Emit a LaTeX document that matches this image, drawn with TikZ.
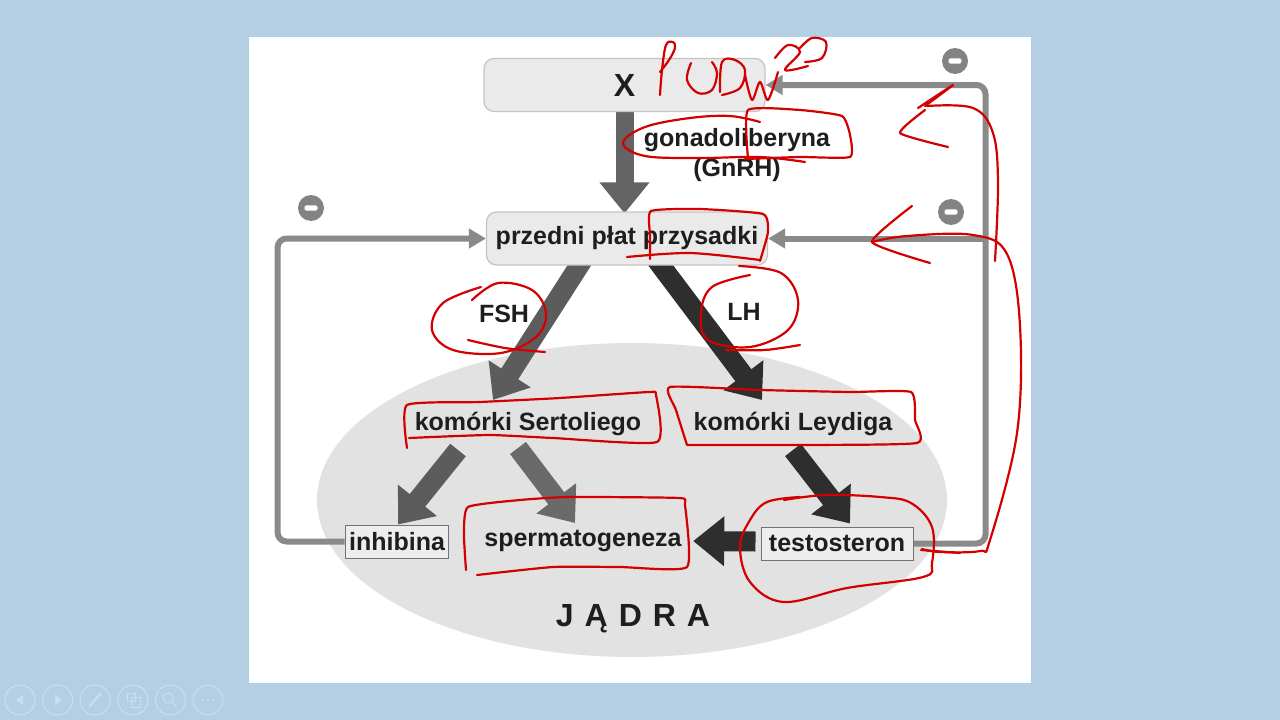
\documentclass[tikz,border=0pt]{standalone}
\usepackage{fontspec}
\setmainfont{Liberation Sans}
\usetikzlibrary{arrows.meta,positioning,calc,backgrounds}

\definecolor{slidebg}{RGB}{180,207,227}
\definecolor{boxfill}{RGB}{234,234,234}
\definecolor{boxline}{RGB}{196,196,196}
\definecolor{ellfill}{RGB}{226,226,226}
\definecolor{fbgray}{RGB}{138,138,138}
\definecolor{pen}{RGB}{212,0,0}
\definecolor{ink}{RGB}{30,30,30}
\definecolor{tbline}{RGB}{204,222,236}
\definecolor{midgray}{RGB}{92,92,92}
\definecolor{lightgray}{RGB}{106,106,106}
\definecolor{darkgray}{RGB}{46,46,46}

\begin{document}
\begin{tikzpicture}[x=1pt,y=-1pt,
    txt/.style={text=ink, font=\bfseries\fontsize{25}{29}\selectfont},
    organ/.style={txt, draw=boxline, fill=boxfill, line width=1.2pt, rounded corners=10pt,
      minimum width=281pt, minimum height=53pt},
    hormbox/.style={txt, draw=gray!90!black, fill=white!93!black, line width=1pt,
      minimum height=33pt, inner xsep=4pt},
    fat/.style={line width=20pt, -{Triangle[length=31pt,width=48pt]}},
    fb/.style={fbgray, line width=6pt, rounded corners=9pt, -{Triangle[length=17pt,width=19pt]}},
    minus/.style={circle, fill=fbgray!95!black, minimum size=26pt, inner sep=0pt,
      path picture={\fill[white, rounded corners=2pt]
        ([xshift=-6.5pt,yshift=-2.6pt]path picture bounding box.center) rectangle ++(13pt,5.2pt);}},
    redpen/.style={pen, line width=2.2pt, line cap=round, line join=round},
    tbicon/.style={tbline, line width=1pt}
  ]
  \useasboundingbox (0,0) rectangle (1280,720);

  % Knoten
  \node[organ, font=\bfseries\fontsize{32}{36}\selectfont] (xbox) at (624.5,85) {X};
  \node[organ] (gland) at (627,238.5) {przedni płat przysadki};
  \node[txt, font=\bfseries\fontsize{25}{30}\selectfont, align=center] (gnrh) at (737,155) {gonadoliberyna\\(GnRH)};
  \node[txt] (fsh) at (504,314) {FSH};
  \node[txt] (lh) at (744,312) {LH};
  \node[txt] (sertoli) at (528,424) {komórki Sertoliego};
  \node[txt] (leydig) at (793,424) {komórki Leydiga};
  \node[hormbox] (inhib) at (397,541.5) {inhibina};
  \node[txt] (sperm) at (583,541) {spermatogeneza};
  \node[hormbox, minimum width=152pt] (testo) at (837,543.5) {testosteron};
  \node[txt, font=\bfseries\fontsize{32}{36}\selectfont] (jadra) at (633,619)
    {J\hspace{11pt}Ą\hspace{11pt}D\hspace{11pt}R\hspace{11pt}A};

  % Hemmung
  \node[minus] (m1) at (311,208) {};
  \node[minus] (m2) at (955,61) {};
  \node[minus] (m3) at (951,212) {};

  \begin{scope}[on background layer]
    % Folie
    \fill[slidebg] (0,0) rectangle (1280,720);
    \fill[white] (249,37) rectangle (1031,683);
    \fill[ellfill] (632,500) ellipse [x radius=315pt, y radius=157pt];

    % Hormonpfeile
    \draw[fat, line width=18pt, color=midgray!95!white] (xbox.south) -- ([yshift=-2pt]xbox.south |- gland.north);
    \draw[fat, color=midgray] ($(gland)+(-42,18)$) -- ($(sertoli)+(-35,-24)$);
    \draw[fat, color=darkgray] ($(gland)+(27,18)$) -- ($(leydig)+(-31,-24)$);
    \draw[fat, color=midgray] ($(sertoli)+(-70,26)$) -- ($(inhib)+(1,-17)$);
    \draw[fat, color=lightgray] ($(sertoli)+(-10,24)$) -- ($(sperm)+(-8,-18)$);
    \draw[fat, color=darkgray] ($(leydig)+(0,26)$) -- ($(testo)+(13,-20)$);
    \draw[fat, color=darkgray] ($(testo.west)+(-5,-2)$) -- ($(sperm.east)+(8,0)$);

    % Rueckkopplung
    \coordinate (rbend) at ($(testo.east)+(72,0)$);
    \draw[fb] (testo.east) -- (rbend) |- (xbox.east);
    \draw[fb] ($(rbend |- gland.east)+(2,0)$) -- (gland.east);
    \draw[fb] (inhib.west) -- ++(-67,0) |- (gland.west);
  \end{scope}

  % Notizen (rot)
  \draw[redpen] plot[smooth, tension=0.6] coordinates {(660,95) (662,70) (666,45) (673,42) (675,48) (669,60) (660,72)};
  \draw[redpen] plot[smooth, tension=0.6] coordinates {(691,63) (687,80) (698,93) (712,90) (717,73) (712,62)};
  \draw[redpen] plot[smooth, tension=0.6] coordinates {(720,92) (722,62) (735,60) (745,70) (740,88) (722,95)};
  \draw[redpen] plot[smooth, tension=0.5] coordinates {(745,75) (752,100) (760,82) (768,100) (778,72)};
  \draw[redpen] plot[smooth, tension=0.6] coordinates {(775,58) (788,45) (800,52) (785,70) (808,66)};
  \draw[redpen] plot[smooth, tension=0.6] coordinates {(800,48) (812,38) (826,42) (822,58) (805,62)};

  \draw[redpen] plot[smooth, tension=0.6] coordinates {(760,122) (730,116) (690,118) (645,127) (623,143) (645,156) (700,158) (760,157) (805,162)};
  \draw[redpen] plot[smooth, tension=0.3] coordinates {(748,158) (748,110) (800,110) (842,116) (850,135) (850,157) (800,157) (745,159)};

  \draw[redpen] plot[smooth, tension=0.3] coordinates {(650,259) (650,235) (651,211) (700,209) (763,214) (768,232) (760,261)};
  \draw[redpen] plot[smooth, tension=0.5] coordinates {(627,257) (690,253) (760,260)};

  \draw[redpen] plot[smooth, tension=0.6] coordinates {(472,300) (498,283) (532,290) (546,313) (536,337) (501,353) (453,350) (432,330) (443,303) (481,287)};
  \draw[redpen] plot[smooth, tension=0.5] coordinates {(468,340) (505,348) (545,352)};
  \draw[redpen] plot[smooth, tension=0.6] coordinates {(739,266) (781,273) (798,300) (788,330) (750,347) (708,340) (701,313) (712,287) (750,275)};
  \draw[redpen] plot[smooth, tension=0.5] coordinates {(726,350) (765,350) (800,345)};

  \draw[redpen] plot[smooth, tension=0.3] coordinates {(407,448) (407,405) (480,402) (560,398) (649,392) (656,395) (657,442) (553,438) (489,435) (409,438)};
  \draw[redpen] plot[smooth, tension=0.3] coordinates {(687,445) (676,410) (670,387) (760,390) (850,392) (911,392) (915,420) (917,443) (800,445) (687,445)};
  \draw[redpen] plot[smooth, tension=0.3] coordinates {(466,570) (464,535) (468,507) (520,500) (569,497) (679,498) (685,505) (687,567) (620,567) (553,567) (477,575)};
  \draw[redpen] plot[smooth, tension=0.6] coordinates {(784,500) (826,495) (880,497) (911,503) (932,527) (932,563) (923,577) (847,588) (784,602) (750,582) (740,547) (750,520) (767,502) (800,497)};
  \draw[redpen] plot[smooth, tension=0.5] coordinates {(921,550) (960,553)};

  \draw[redpen] plot[smooth, tension=0.3] coordinates {(948,147) (900,133) (925,110)};
  \draw[redpen] plot[smooth, tension=0.3] coordinates {(918,108) (953,85) (925,106)};
  \draw[redpen] plot[smooth, tension=0.6] coordinates {(927,106) (973,108) (993,133) (998,183) (995,261)};
  \draw[redpen] plot[smooth, tension=0.3] coordinates {(912,206) (872,242) (930,263)};
  \draw[redpen] plot[smooth, tension=0.6] coordinates {(872,242) (907,236) (973,235) (1007,254) (1020,326) (1017,433) (990,540) (980,551) (940,552) (922,549)};

  % Leiste
  \foreach \i in {0,...,5}
    \draw[tbicon] (20+\i*37.6,700) circle (15pt);
  \fill[tbline] (16,700) -- (23,695) -- (23,705) -- cycle;
  \fill[tbline] (62,700) -- (55,695) -- (55,705) -- cycle;
  \draw[tbicon, line width=2pt] (89,707) -- (101,693);
  \draw[tbicon] (127,693) rectangle (135,701) (131,697) rectangle (140,707);
  \draw[tbicon] (168,698) circle (5pt) (172,702) -- (177,707);
  \foreach \d in {-5,0,5}
    \fill[tbline] (208+\d,700) circle (1.2pt);
\end{tikzpicture}
\end{document}
